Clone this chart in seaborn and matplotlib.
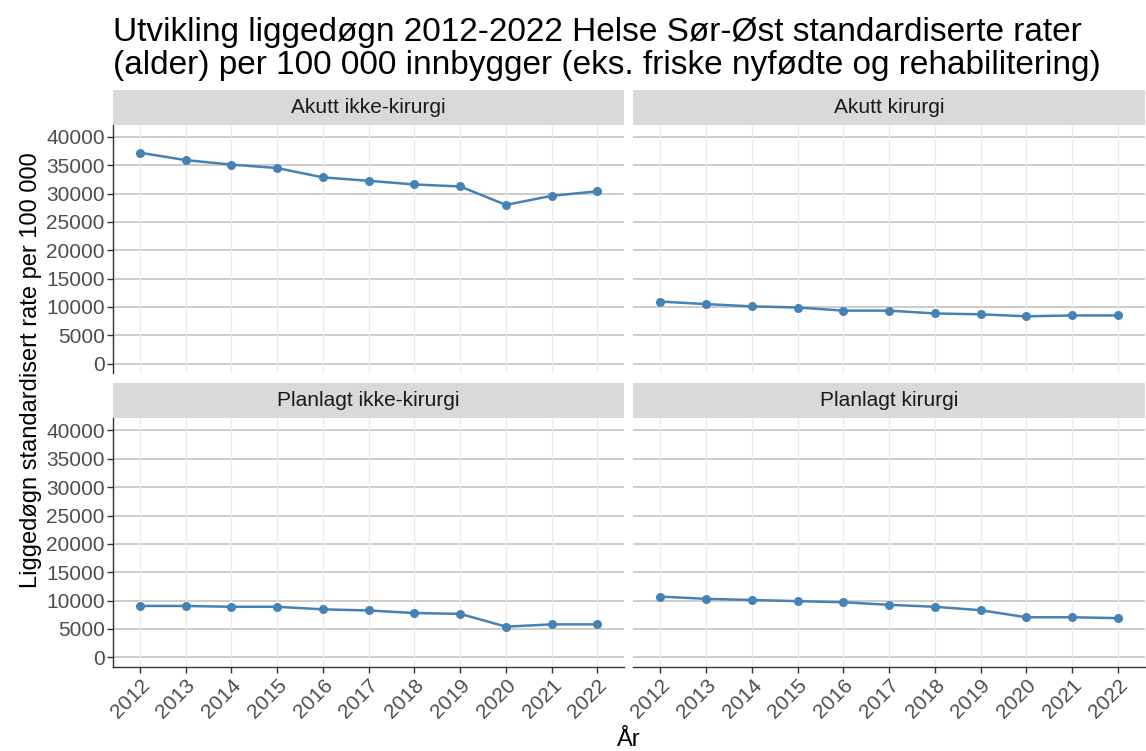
import pandas as pd
import matplotlib
matplotlib.use("Agg")
import matplotlib.pyplot as plt
import seaborn as sns
from matplotlib.patches import Rectangle

# data
years = list(range(2012, 2023))
categories = ["Akutt ikke-kirurgi", "Akutt kirurgi", "Planlagt ikke-kirurgi", "Planlagt kirurgi"]
akutt_ikke_kirurgi = [37200, 35900, 35100, 34500, 32850, 32250, 31600, 31250, 28000, 29600, 30400]
akutt_kirurgi = [10950, 10500, 10100, 9900, 9350, 9350, 8850, 8700, 8350, 8500, 8500]
planlagt_ikke_kirurgi = [9050, 9050, 8900, 8900, 8450, 8250, 7800, 7650, 5400, 5800, 5800]
planlagt_kirurgi = [10700, 10300, 10100, 9900, 9700, 9250, 8900, 8300, 7050, 7050, 6900]
y_ticks = list(range(0, 40001, 5000))

series = [akutt_ikke_kirurgi, akutt_kirurgi, planlagt_ikke_kirurgi, planlagt_kirurgi]
df = pd.DataFrame({
    "År": years * 4,
    "rate": sum(series, []),
    "type": [c for c in categories for _ in years],
})

sns.set_theme(style="white")
plt.rcParams["font.family"] = ["Liberation Sans", "DejaVu Sans"]

g = sns.relplot(data=df, x="År", y="rate", col="type", col_wrap=2, kind="line",
                marker="o", color="#4682b4", linewidth=1.8, markersize=6.5,
                markeredgewidth=0, col_order=categories, facet_kws={"sharex": True, "sharey": True})
fig = g.figure
fig.set_size_inches(11.46, 7.51)
fig.set_dpi(100)
fig.subplots_adjust(left=0.0986, right=0.999, bottom=0.112, top=0.834, wspace=0.0176, hspace=0.181)

g.set_titles("")
g.set_axis_labels("", "")

for i, (ax, name) in enumerate(zip(g.axes.flat, categories)):
    left_col = i % 2 == 0
    bottom_row = i >= 2
    ax.set_xlim(2012 - 0.59, 2022 + 0.59)
    ax.set_ylim(-1700, 42150)
    ax.set_xticks(years)
    ax.set_yticks(y_ticks)
    ax.grid(False)
    for y in y_ticks:
        ax.axhline(y, color="#c4c4c4", linewidth=1.2, zorder=0)
    for x in years:
        ax.axvline(x, color="#ebebeb", linewidth=1.0, zorder=0)
    for s in ax.spines.values():
        s.set_visible(False)
    if left_col:
        ax.spines["left"].set_visible(True)
        ax.spines["left"].set_color("#333333")
        ax.spines["left"].set_linewidth(1.0)
        ax.tick_params(axis="y", left=True, length=4, width=1, color="#333333",
                       labelsize=15, labelcolor="#4d4d4d", pad=2)
    else:
        ax.tick_params(axis="y", left=False, labelleft=False)
    if bottom_row:
        ax.spines["bottom"].set_visible(True)
        ax.spines["bottom"].set_color("#333333")
        ax.spines["bottom"].set_linewidth(1.0)
        ax.tick_params(axis="x", bottom=True, length=4, width=1, color="#333333",
                       labelsize=15, labelcolor="#4d4d4d", pad=2, labelbottom=True)
        for lab in ax.get_xticklabels():
            lab.set_rotation(45)
            lab.set_ha("right")
            lab.set_rotation_mode("anchor")
    else:
        ax.tick_params(axis="x", bottom=False, labelbottom=False)
    # strip header
    ax.add_patch(Rectangle((0, 1.0), 1, 0.141, transform=ax.transAxes,
                           facecolor="#d9d9d9", edgecolor="none", clip_on=False))
    ax.text(0.5, 1.0705, name, transform=ax.transAxes, ha="center", va="center",
            fontsize=15, color="#1a1a1a")

fig.text(0.0986, 0.978, "Utvikling liggedøgn 2012-2022 Helse Sør-Øst standardiserte rater\n"
         "(alder) per 100 000 innbygger (eks. friske nyfødte og rehabilitering)",
         ha="left", va="top", fontsize=24, color="black", linespacing=1.12)
fig.text(0.027, 0.507, "Liggedøgn standardisert rate per 100 000", rotation=90,
         ha="center", va="center", fontsize=17, color="black")
fig.text(0.549, 0.0, "År", ha="center", va="bottom", fontsize=17, color="black")

fig.savefig("out.png", dpi=100)
